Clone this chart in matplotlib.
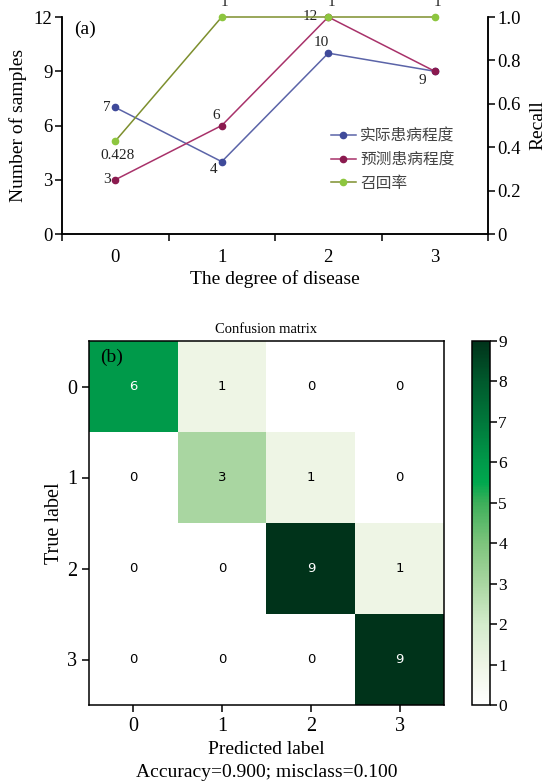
import matplotlib
matplotlib.use('Agg')
import matplotlib.pyplot as plt
import numpy as np
from matplotlib.colors import LinearSegmentedColormap

plt.rcParams['font.family'] = ['Liberation Serif', 'Noto Sans CJK SC', 'DejaVu Sans']
plt.rcParams['axes.unicode_minus'] = False

# ---------------- data ----------------
degrees = [0, 1, 2, 3]
actual = [7, 4, 10, 9]
predicted = [3, 6, 12, 9]
recall = [0.428, 1, 1, 1]
recall_labels = ['0.428', '1', '1', '1']
series_names = ['实际患病程度', '预测患病程度', '召回率']

cm = [[6, 1, 0, 0],
      [0, 3, 1, 0],
      [0, 0, 9, 1],
      [0, 0, 0, 9]]
class_labels = ['0', '1', '2', '3']
accuracy = 0.900
misclass = 0.100

# label offsets in pixels (None = no label)
off_actual = [(-8, 0), (-8, -8), (-7, 11), (-12, -9)]
off_pred = [(-8, 0), (-6, 10), (-18, 0), None]
off_recall = [(2, -14), (3, 14), (3, 14), (3, 14)]

W, H = 544, 784
fig = plt.figure(figsize=(W / 100, H / 100), dpi=100)

# ---------------- panel (a) ----------------
ax = fig.add_axes([62 / W, 1 - 234 / H, 426 / W, 217 / H])
ax2 = ax.twinx()

c_act_line, c_act_mk = '#5b64a8', '#3f4a9a'
c_pre_line, c_pre_mk = '#a8326a', '#8b1a4f'
c_rec_line, c_rec_mk = '#7d8f2e', '#8dc63f'

l1, = ax.plot(degrees, actual, color=c_act_line, lw=1.1, marker='o', ms=4.5,
              mfc=c_act_mk, mec=c_act_mk, clip_on=False, label=series_names[0])
l2, = ax.plot(degrees, predicted, color=c_pre_line, lw=1.1, marker='o', ms=4.5,
              mfc=c_pre_mk, mec=c_pre_mk, clip_on=False, label=series_names[1])
l3, = ax2.plot(degrees, recall, color=c_rec_line, lw=1.1, marker='o', ms=4.5,
               mfc=c_rec_mk, mec=c_rec_mk, clip_on=False, label=series_names[2])

for x, v, o in zip(degrees, actual, off_actual):
    if o is not None:
        ax.annotate(str(v), (x, v), xytext=o, textcoords='offset pixels',
                    ha='center', va='center', fontsize=11, color='#222222')
for x, v, o in zip(degrees, predicted, off_pred):
    if o is not None:
        ax.annotate(str(v), (x, v), xytext=o, textcoords='offset pixels',
                    ha='center', va='center', fontsize=11, color='#222222')
for x, v, t, o in zip(degrees, recall, recall_labels, off_recall):
    ax2.annotate(t, (x, v), xytext=o, textcoords='offset pixels',
                 ha='center', va='center', fontsize=11, color='#222222',
                 annotation_clip=False)

ax.set_xlim(-0.5, 3.5)
ax.set_ylim(0, 12)
ax2.set_ylim(0, 1)
ax.set_yticks([0, 3, 6, 9, 12])
ax2.set_yticks([0, 0.2, 0.4, 0.6, 0.8, 1.0])
ax2.set_yticklabels(['0', '0.2', '0.4', '0.6', '0.8', '1.0'])

ax.set_xticks([-0.5, 0.5, 1.5, 2.5, 3.5])
ax.set_xticklabels([])
ax.set_xticks(degrees, minor=True)
ax.set_xticklabels([str(d) for d in degrees], minor=True)
ax.tick_params(axis='x', which='minor', length=0, labelsize=13.5, pad=11)
ax.tick_params(axis='x', which='major', length=5, width=1.1, direction='out')
ax.tick_params(axis='y', length=5, width=1.1, direction='out', labelsize=13.5, pad=2)
ax2.tick_params(axis='y', length=5, width=1.1, direction='out', labelsize=13.5, pad=2)

for a in (ax, ax2):
    a.spines['top'].set_visible(False)
    for s in a.spines.values():
        s.set_linewidth(1.1)

ax.set_xlabel('The degree of disease', fontsize=14, labelpad=3)
ax.set_ylabel('Number of samples', fontsize=14, labelpad=5)
ax2.set_ylabel('Recall', fontsize=14, labelpad=6)

ax.text(0.028, 0.945, '(a)', transform=ax.transAxes, fontsize=14,
        ha='left', va='center')

leg = ax2.legend(handles=[l1, l2, l3], loc='upper left',
                 bbox_to_anchor=(0.632, 0.49), frameon=False,
                 prop={'family': ['Noto Sans CJK SC'], 'size': 11.3},
                 handlelength=1.55, handletextpad=0.3, labelspacing=0.42,
                 borderpad=0, borderaxespad=0)
for t in leg.get_texts():
    t.set_color('#444444')

# ---------------- panel (b) ----------------
cmap = LinearSegmentedColormap.from_list('greens_ref', [
    (0.0, '#ffffff'), (1 / 9, '#eef5e5'), (2 / 9, '#d3ebcb'), (3 / 9, '#a9d6a1'),
    (4 / 9, '#7dc47c'), (5 / 9, '#3daf5a'), (5.5 / 9, '#00a84e'),
    (6 / 9, '#009a4a'), (7 / 9, '#00783b'), (8 / 9, '#005a2d'), (1.0, '#00331a')])

cm_arr = np.array(cm)
axc = fig.add_axes([89 / W, 1 - 705 / H, 355 / W, 364 / H])
im = axc.imshow(cm_arr, cmap=cmap, vmin=0, vmax=9, aspect='auto',
                interpolation='nearest')
thresh = cm_arr.max() / 2
for i in range(cm_arr.shape[0]):
    for j in range(cm_arr.shape[1]):
        axc.text(j, i, str(cm_arr[i, j]), ha='center', va='center',
                 fontsize=9.5, family='DejaVu Sans',
                 color='white' if cm_arr[i, j] > thresh else 'black')

axc.set_xticks(range(len(class_labels)))
axc.set_xticklabels(class_labels)
axc.set_yticks(range(len(class_labels)))
axc.set_yticklabels(class_labels)
axc.tick_params(length=5, width=1.1, labelsize=14.5)
for s in axc.spines.values():
    s.set_linewidth(1.1)
axc.set_title('Confusion matrix', fontsize=10.5, pad=6)
axc.set_ylabel('True label', fontsize=14.5, labelpad=2)
axc.set_xlabel('Predicted label\nAccuracy={:0.3f}; misclass={:0.3f}'.format(accuracy, misclass),
               fontsize=14, labelpad=4, linespacing=1.4)
axc.text(0.031, 0.956, '(b)', transform=axc.transAxes, fontsize=14,
         ha='left', va='center')

cax = fig.add_axes([472 / W, 1 - 705 / H, 18 / W, 364 / H])
cb = fig.colorbar(im, cax=cax, ticks=range(10))
cb.outline.set_linewidth(1.1)
cax.tick_params(length=5, width=1.1, labelsize=12.5, pad=1)

fig.savefig('out.png', dpi=100)
